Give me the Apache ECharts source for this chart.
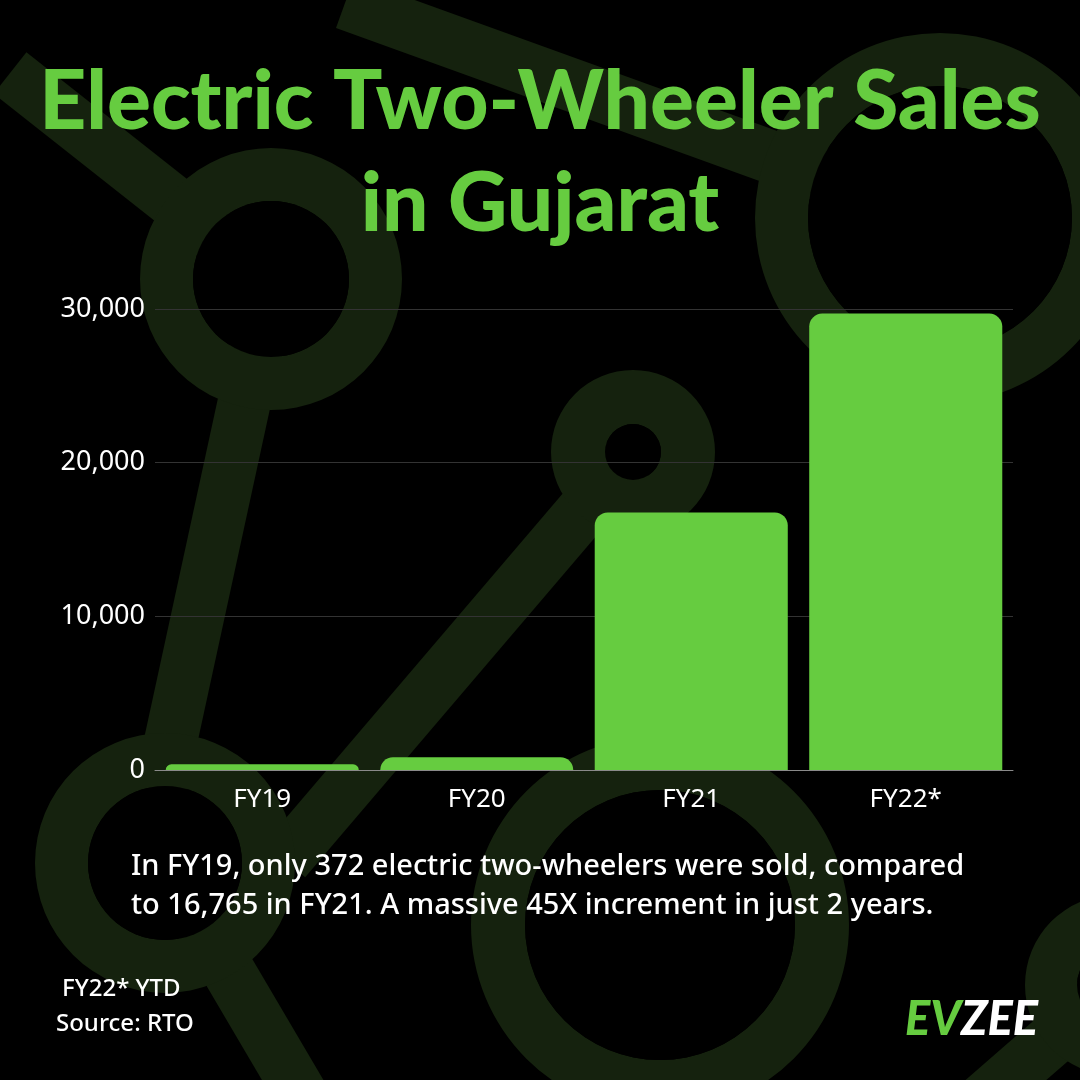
<!DOCTYPE html>
<html>
<head>
<meta charset="utf-8">
<script src="https://cdn.jsdelivr.net/npm/echarts@6/dist/echarts.min.js"></script>
<style>
html,body{margin:0;padding:0;background:#000;}
#main{width:1080px;height:1080px;}
</style>
</head>
<body>
<div id="main"></div>
<script>
// data
var categories=['FY19','FY20','FY21','FY22*'];
var sales=[372,830,16765,29700];
var yTicks=[0,10000,20000,30000];
var titleLines=['Electric Two-Wheeler Sales','in Gujarat'];
var captionLines=['In FY19, only 372 electric two-wheelers were sold, compared','to 16,765 in FY21. A massive 45X increment in just 2 years.'];
var noteLines=['FY22* YTD','Source: RTO'];

var green='#66cc40';
var decor='#15220e';
var bodyFont='"Noto Sans", "Open Sans", sans-serif';

window.onload=function(){
    var myChart=echarts.init(document.getElementById('main'));

    //背景装饰
    var rings=[
        {cx:271,cy:279,r:131,r0:78},
        {cx:165,cy:863,r:130,r0:77},
        {cx:633,cy:452,r:82,r0:28},
        {cx:940,cy:218,r:185,r0:132},
        {cx:660,cy:925,r:189,r0:135},
        {cx:1115,cy:985,r:90,r0:38}
    ];
    var bands=[
        [10,73,271,279],
        [345,3,940,218],
        [271,279,160,790],
        [633,452,285,860],
        [165,863,318,1123],
        [1115,985,960,1120]
    ];
    var graphic=[];
    for(var i=0;i<bands.length;i++){
        graphic.push({type:'line',z:-10,silent:true,
            shape:{x1:bands[i][0],y1:bands[i][1],x2:bands[i][2],y2:bands[i][3]},
            style:{stroke:decor,lineWidth:53,lineCap:'butt'}});
    }
    for(var i=0;i<rings.length;i++){
        graphic.push({type:'ring',z:-9,silent:true,shape:rings[i],style:{fill:decor}});
        graphic.push({type:'circle',z:-9,silent:true,
            shape:{cx:rings[i].cx,cy:rings[i].cy,r:rings[i].r0},style:{fill:'#000'}});
    }

    //标题
    graphic.push({type:'text',z:100,x:540,y:103,
        style:{text:titleLines[0],fill:green,font:'900 82px Lato, sans-serif',align:'center',verticalAlign:'middle'}});
    graphic.push({type:'text',z:100,x:540,y:205,
        style:{text:titleLines[1],fill:green,font:'900 82px Lato, sans-serif',align:'center',verticalAlign:'middle'}});

    //说明文字
    for(var i=0;i<captionLines.length;i++){
        graphic.push({type:'text',z:100,x:131,y:867+i*39,
            style:{text:captionLines[i],fill:'#fff',font:'500 29px '+bodyFont,verticalAlign:'middle'}});
    }
    graphic.push({type:'text',z:100,x:62,y:989,style:{text:noteLines[0],fill:'#fff',font:'500 24px '+bodyFont,verticalAlign:'middle'}});
    graphic.push({type:'text',z:100,x:56,y:1024,style:{text:noteLines[1],fill:'#fff',font:'500 24px '+bodyFont,verticalAlign:'middle'}});

    //logo
    graphic.push({type:'text',z:100,x:905,y:1020,
        style:{text:'{a|EV}{b|ZEE}',verticalAlign:'middle',
            rich:{a:{fill:green,font:'italic 900 47px Lato, sans-serif'},
                  b:{fill:'#fff',font:'italic 900 47px Lato, sans-serif'}}}});

    var option={
        backgroundColor:'#000',
        animation:false,
        graphic:graphic,
        grid:{
            left:155,
            right:67,
            top:309,
            bottom:310
        },
        xAxis:{
            type:'category',
            data:categories,
            axisLine:{lineStyle:{color:'#8a8a8a',width:1}},
            axisTick:{show:false},
            axisLabel:{color:'#fff',fontSize:26,fontFamily:bodyFont,margin:17}
        },
        yAxis:{
            type:'value',
            min:yTicks[0],
            max:yTicks[yTicks.length-1],
            interval:yTicks[1]-yTicks[0],
            axisLine:{show:false},
            axisTick:{show:false},
            splitLine:{lineStyle:{color:'#333',width:1}},
            axisLabel:{
                color:'#fff',fontSize:27,fontFamily:bodyFont,margin:10,
                formatter:function(v){return v.toLocaleString('en-US');}
            }
        },
        series:[{
            name:'Sales',
            type:'bar',
            data:sales,
            barCategoryGap:'10%',
            itemStyle:{color:green,borderRadius:[13,13,0,0]}
        }]
    };

    myChart.setOption(option);
};
</script>
</body>
</html>
